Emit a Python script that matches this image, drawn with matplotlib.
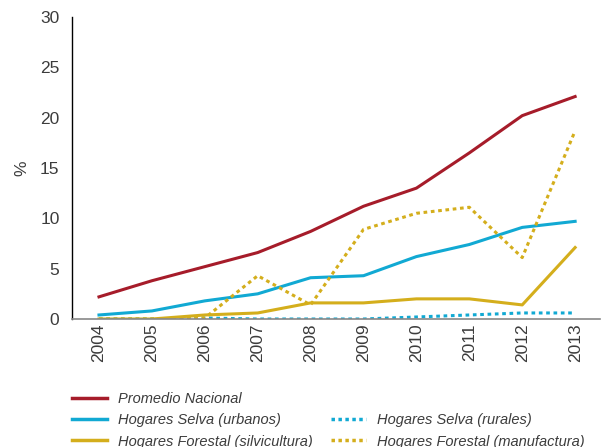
import matplotlib
matplotlib.use('Agg')
import matplotlib.pyplot as plt
from matplotlib.lines import Line2D

plt.rcParams['font.family'] = ['Liberation Sans', 'DejaVu Sans']

years = [2004, 2005, 2006, 2007, 2008, 2009, 2010, 2011, 2012, 2013]
promedio = [2.2, 3.8, 5.2, 6.6, 8.7, 11.2, 13.0, 16.5, 20.2, 22.1]
selva_urb = [0.4, 0.8, 1.8, 2.5, 4.1, 4.3, 6.2, 7.4, 9.1, 9.7]
selva_rur = [0.0, 0.0, 0.1, 0.0, 0.0, 0.0, 0.2, 0.4, 0.6, 0.6]
forestal_silv = [0.0, 0.0, 0.4, 0.6, 1.6, 1.6, 2.0, 2.0, 1.4, 7.1]
forestal_manu = [0.0, 0.0, 0.1, 4.3, 1.4, 8.9, 10.5, 11.1, 6.1, 18.7]

red = '#a61c2a'
blue = '#11a9d3'
gold = '#d4ae1c'
txt = '#3c3c3c'

fig = plt.figure(figsize=(6.03, 4.47), dpi=100)
ax = fig.add_axes([72/603, 128/447, 528/603, 302/447])

ax.plot(years, promedio, color=red, lw=2.2)
ax.plot(years, selva_urb, color=blue, lw=2.2)
ax.plot(years, selva_rur, color=blue, lw=2.2, ls=(0, (1.2, 1.2)))
ax.plot(years, forestal_silv, color=gold, lw=2.2)
ax.plot(years, forestal_manu, color=gold, lw=2.2, ls=(0, (1.2, 1.2)))

ax.set_xlim(2003.49, 2013.47)
ax.set_ylim(0, 30)
ax.set_yticks(range(0, 31, 5))
ax.set_xticks(years)
ax.set_xticklabels([str(y) for y in years], rotation=90)
ax.tick_params(length=0, labelsize=12.5, colors=txt, pad=3)
ax.tick_params(axis='y', pad=9)
for s in ['top', 'right']:
    ax.spines[s].set_visible(False)
ax.spines['left'].set_color('black')
ax.spines['left'].set_linewidth(1.0)
ax.spines['bottom'].set_color('#888888')
ax.spines['bottom'].set_linewidth(1.2)
ax.set_ylabel('%', fontsize=12.5, color=txt, labelpad=8)

handles = [
    Line2D([], [], color=red, lw=2.5),
    Line2D([], [], color=blue, lw=2.5),
    Line2D([], [], color=gold, lw=2.5),
    Line2D([], [], color='none'),
    Line2D([], [], color=blue, lw=2.5, ls=(0, (1, 1))),
    Line2D([], [], color=gold, lw=2.5, ls=(0, (1, 1))),
]
labels = ['Promedio Nacional', 'Hogares Selva (urbanos)', 'Hogares Forestal (silvicultura)',
          '', 'Hogares Selva (rurales)', 'Hogares Forestal (manufactura)']
leg = fig.legend(handles, labels, ncol=2, loc='upper left', bbox_to_anchor=(72/603, 1 - 392/447),
                 frameon=False, handlelength=2.4, handletextpad=0.75, columnspacing=1.23,
                 labelspacing=0.5, borderaxespad=0, borderpad=0,
                 prop={'style': 'italic', 'size': 10.5})
for t in leg.get_texts():
    t.set_color(txt)

fig.savefig('out.png', dpi=100)
